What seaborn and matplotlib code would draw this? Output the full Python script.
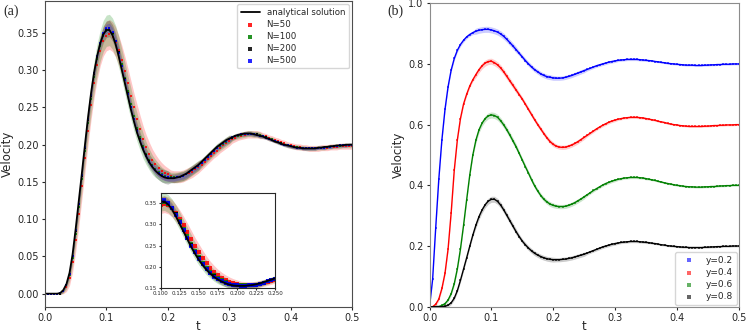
import numpy as np
import matplotlib
matplotlib.use("Agg")
import matplotlib.pyplot as plt
import seaborn as sns

# sampling times of the solutions
t = np.linspace(0, 0.5, 101)

# analytical velocity at y=0.8 (panel a reference, panel b black curve)
v_y08 = [0.000, 0.000, 0.000, 0.000, 0.000, 0.001, 0.005, 0.013, 0.028, 0.053,
         0.087, 0.124, 0.161, 0.199, 0.236, 0.269, 0.297, 0.319, 0.336, 0.348,
         0.354, 0.354, 0.347, 0.335, 0.319, 0.301, 0.283, 0.265, 0.247, 0.231,
         0.216, 0.204, 0.193, 0.184, 0.176, 0.170, 0.165, 0.161, 0.158, 0.156,
         0.155, 0.155, 0.155, 0.156, 0.157, 0.159, 0.161, 0.164, 0.167, 0.170,
         0.173, 0.177, 0.181, 0.185, 0.189, 0.193, 0.197, 0.200, 0.203, 0.206,
         0.208, 0.210, 0.212, 0.213, 0.214, 0.215, 0.215, 0.215, 0.214, 0.213,
         0.212, 0.211, 0.209, 0.208, 0.206, 0.204, 0.203, 0.201, 0.200, 0.199,
         0.198, 0.197, 0.196, 0.196, 0.195, 0.195, 0.195, 0.195, 0.195, 0.196,
         0.196, 0.197, 0.197, 0.198, 0.198, 0.199, 0.199, 0.199, 0.200, 0.200,
         0.200]

# panel (a): mean of the stochastic solutions for several N
v_n50 = [0.000, 0.000, 0.000, 0.000, 0.000, 0.000, 0.003, 0.009, 0.021, 0.042,
         0.072, 0.107, 0.145, 0.182, 0.219, 0.253, 0.283, 0.307, 0.326, 0.339,
         0.346, 0.348, 0.345, 0.338, 0.327, 0.314, 0.299, 0.283, 0.266, 0.250,
         0.235, 0.221, 0.208, 0.197, 0.188, 0.180, 0.174, 0.169, 0.165, 0.162,
         0.160, 0.158, 0.157, 0.157, 0.157, 0.158, 0.160, 0.162, 0.164, 0.167,
         0.170, 0.173, 0.177, 0.181, 0.185, 0.189, 0.192, 0.196, 0.199, 0.202,
         0.205, 0.207, 0.209, 0.211, 0.212, 0.213, 0.214, 0.214, 0.214, 0.214,
         0.213, 0.212, 0.211, 0.209, 0.208, 0.206, 0.205, 0.203, 0.202, 0.200,
         0.199, 0.198, 0.197, 0.197, 0.196, 0.196, 0.195, 0.195, 0.195, 0.195,
         0.196, 0.196, 0.196, 0.197, 0.197, 0.197, 0.198, 0.198, 0.198, 0.198,
         0.198]
v_n100 = [0.000, 0.000, 0.000, 0.000, 0.000, 0.000, 0.004, 0.011, 0.025, 0.048,
          0.080, 0.116, 0.154, 0.192, 0.229, 0.262, 0.291, 0.315, 0.333, 0.346,
          0.353, 0.354, 0.349, 0.339, 0.325, 0.308, 0.290, 0.272, 0.255, 0.238,
          0.223, 0.210, 0.198, 0.188, 0.180, 0.173, 0.168, 0.164, 0.160, 0.158,
          0.157, 0.156, 0.156, 0.156, 0.157, 0.158, 0.160, 0.163, 0.166, 0.169,
          0.172, 0.175, 0.179, 0.183, 0.187, 0.191, 0.195, 0.198, 0.201, 0.204,
          0.207, 0.209, 0.211, 0.212, 0.213, 0.214, 0.215, 0.215, 0.214, 0.214,
          0.213, 0.211, 0.210, 0.208, 0.207, 0.205, 0.203, 0.202, 0.200, 0.199,
          0.198, 0.197, 0.197, 0.196, 0.196, 0.195, 0.195, 0.195, 0.195, 0.196,
          0.196, 0.196, 0.197, 0.197, 0.198, 0.198, 0.198, 0.199, 0.199, 0.199,
          0.199]
v_n200 = [0.000, 0.000, 0.000, 0.000, 0.000, 0.000, 0.004, 0.012, 0.027, 0.051,
          0.084, 0.120, 0.158, 0.196, 0.233, 0.266, 0.295, 0.318, 0.335, 0.348,
          0.355, 0.356, 0.350, 0.339, 0.324, 0.306, 0.288, 0.269, 0.251, 0.235,
          0.220, 0.207, 0.196, 0.186, 0.178, 0.172, 0.166, 0.162, 0.159, 0.157,
          0.156, 0.155, 0.155, 0.156, 0.157, 0.158, 0.160, 0.163, 0.166, 0.169,
          0.172, 0.176, 0.180, 0.184, 0.188, 0.192, 0.196, 0.199, 0.202, 0.205,
          0.207, 0.209, 0.211, 0.213, 0.214, 0.214, 0.215, 0.215, 0.214, 0.214,
          0.212, 0.211, 0.210, 0.208, 0.206, 0.205, 0.203, 0.202, 0.200, 0.199,
          0.198, 0.197, 0.196, 0.196, 0.195, 0.195, 0.195, 0.195, 0.195, 0.196,
          0.196, 0.196, 0.197, 0.197, 0.198, 0.198, 0.199, 0.199, 0.199, 0.200,
          0.200]
v_n500 = [0.000, 0.000, 0.000, 0.000, 0.000, 0.001, 0.004, 0.012, 0.027, 0.051,
          0.085, 0.121, 0.159, 0.197, 0.234, 0.267, 0.296, 0.319, 0.337, 0.350,
          0.356, 0.357, 0.351, 0.339, 0.323, 0.305, 0.287, 0.268, 0.250, 0.234,
          0.219, 0.206, 0.195, 0.185, 0.177, 0.171, 0.166, 0.162, 0.159, 0.157,
          0.156, 0.155, 0.155, 0.156, 0.157, 0.158, 0.160, 0.163, 0.166, 0.169,
          0.172, 0.176, 0.180, 0.184, 0.188, 0.192, 0.196, 0.199, 0.202, 0.205,
          0.207, 0.210, 0.212, 0.213, 0.214, 0.215, 0.215, 0.215, 0.214, 0.213,
          0.212, 0.211, 0.209, 0.208, 0.206, 0.205, 0.203, 0.201, 0.200, 0.199,
          0.198, 0.197, 0.196, 0.196, 0.195, 0.195, 0.195, 0.195, 0.195, 0.196,
          0.196, 0.196, 0.197, 0.197, 0.198, 0.198, 0.199, 0.199, 0.199, 0.200,
          0.200]

# half-width of the shaded spread around each N
hw_n50 = ([0.0] * 5 + [0.001, 0.003, 0.006, 0.010, 0.013, 0.016, 0.018, 0.019, 0.020, 0.020]
          + [0.020] * 14
          + [0.019, 0.019, 0.018, 0.017, 0.016, 0.015, 0.014, 0.013, 0.012, 0.011, 0.010, 0.009]
          + [0.008] * 10 + [0.007] * 10 + [0.005] * 10 + [0.004] * 30)
hw_n100 = ([0.0] * 5 + [0.001, 0.003, 0.005, 0.008, 0.011, 0.014, 0.016, 0.018, 0.019, 0.020]
           + [0.021] * 14
           + [0.020, 0.019, 0.018, 0.017, 0.015, 0.014, 0.013, 0.012, 0.011, 0.010, 0.009, 0.008]
           + [0.007] * 10 + [0.006] * 10 + [0.004] * 10 + [0.003] * 30)
hw_n200 = ([0.0] * 5 + [0.001, 0.002, 0.003, 0.005, 0.007, 0.008, 0.009, 0.010, 0.010, 0.010]
           + [0.011] * 14 + [0.009] * 12
           + [0.006] * 10 + [0.005] * 10 + [0.003] * 10 + [0.002] * 30)
hw_n500 = ([0.0] * 5 + [0.000, 0.001, 0.001, 0.002, 0.003, 0.004, 0.004, 0.005, 0.005, 0.005]
           + [0.006] * 14 + [0.005] * 12
           + [0.004] * 10 + [0.003] * 10 + [0.002] * 10 + [0.002] * 30)

# panel (b): velocity at different heights y
v_y02 = [0.000, 0.090, 0.260, 0.420, 0.550, 0.650, 0.725, 0.780, 0.818, 0.845,
         0.864, 0.878, 0.889, 0.897, 0.903, 0.908, 0.911, 0.913, 0.914, 0.914,
         0.912, 0.909, 0.905, 0.899, 0.891, 0.881, 0.870, 0.859, 0.847, 0.835,
         0.823, 0.811, 0.800, 0.790, 0.781, 0.774, 0.767, 0.762, 0.758, 0.756,
         0.754, 0.753, 0.753, 0.754, 0.756, 0.759, 0.762, 0.766, 0.770, 0.774,
         0.778, 0.782, 0.786, 0.790, 0.794, 0.797, 0.800, 0.803, 0.806, 0.808,
         0.810, 0.812, 0.813, 0.814, 0.815, 0.815, 0.815, 0.815, 0.814, 0.813,
         0.812, 0.811, 0.810, 0.808, 0.807, 0.805, 0.804, 0.802, 0.801, 0.800,
         0.799, 0.798, 0.797, 0.796, 0.796, 0.796, 0.795, 0.795, 0.795, 0.796,
         0.796, 0.797, 0.797, 0.798, 0.798, 0.799, 0.799, 0.799, 0.800, 0.800,
         0.800]
v_y04 = [0.000, 0.000, 0.008, 0.025, 0.060, 0.110, 0.190, 0.310, 0.450, 0.550,
         0.620, 0.668, 0.700, 0.727, 0.748, 0.765, 0.781, 0.794, 0.803, 0.808,
         0.809, 0.804, 0.797, 0.787, 0.774, 0.759, 0.744, 0.729, 0.714, 0.699,
         0.684, 0.667, 0.650, 0.633, 0.616, 0.600, 0.585, 0.570, 0.556, 0.544,
         0.535, 0.529, 0.526, 0.525, 0.526, 0.529, 0.533, 0.538, 0.544, 0.551,
         0.558, 0.565, 0.572, 0.579, 0.586, 0.592, 0.598, 0.603, 0.608, 0.612,
         0.615, 0.618, 0.620, 0.622, 0.623, 0.624, 0.624, 0.624, 0.623, 0.622,
         0.620, 0.618, 0.616, 0.614, 0.611, 0.609, 0.607, 0.604, 0.602, 0.600,
         0.599, 0.597, 0.596, 0.595, 0.594, 0.594, 0.594, 0.594, 0.594, 0.595,
         0.595, 0.596, 0.597, 0.597, 0.598, 0.598, 0.599, 0.599, 0.599, 0.600,
         0.600]
v_y06 = [0.000, 0.000, 0.000, 0.000, 0.004, 0.010, 0.022, 0.043, 0.076, 0.125,
         0.190, 0.268, 0.352, 0.433, 0.500, 0.549, 0.583, 0.605, 0.620, 0.629,
         0.632, 0.630, 0.624, 0.613, 0.599, 0.583, 0.565, 0.546, 0.527, 0.505,
         0.483, 0.461, 0.440, 0.418, 0.398, 0.381, 0.366, 0.354, 0.345, 0.338,
         0.334, 0.331, 0.330, 0.330, 0.331, 0.334, 0.338, 0.343, 0.349, 0.355,
         0.362, 0.369, 0.376, 0.383, 0.389, 0.395, 0.401, 0.406, 0.410, 0.414,
         0.417, 0.420, 0.422, 0.424, 0.425, 0.426, 0.426, 0.426, 0.425, 0.424,
         0.422, 0.420, 0.418, 0.416, 0.413, 0.411, 0.408, 0.406, 0.404, 0.402,
         0.400, 0.399, 0.397, 0.396, 0.395, 0.395, 0.394, 0.394, 0.394, 0.395,
         0.395, 0.396, 0.396, 0.397, 0.398, 0.398, 0.399, 0.399, 0.400, 0.400,
         0.400]
hw_b = ([0.000, 0.004] + [0.006] * 13 + [0.010] * 14 + [0.008] * 12
        + [0.007] * 10 + [0.005] * 10 + [0.004] * 10 + [0.003] * 30)

n_labels = ["N=50", "N=100", "N=200", "N=500"]
y_labels = ["y=0.2", "y=0.4", "y=0.6", "y=0.8"]

sns.set_style("ticks")
plt.rcParams['font.family'] = ['DejaVu Sans']

fig = plt.figure(figsize=(7.47, 3.32), dpi=100)
ax1 = fig.add_axes([0.0602, 0.0762, 0.411, 0.921])
ax2 = fig.add_axes([0.575, 0.0762, 0.414, 0.914])
axin = fig.add_axes([0.2151, 0.1325, 0.1534, 0.287])

left_series = [(v_n50, hw_n50, "red"), (v_n100, hw_n100, "green"),
               (v_n200, hw_n200, "black"), (v_n500, hw_n500, "blue")]


def draw_left(ax, ms, with_labels):
    for vals, hw, c in left_series:
        vals = np.array(vals)
        hw = np.array(hw)
        ax.fill_between(t, vals - hw, vals + hw, color=c, alpha=0.22, lw=0)
    sns.lineplot(x=t, y=v_y08, ax=ax, color="black", lw=1.3,
                 label="analytical solution" if with_labels else None, legend=False)
    for (vals, hw, c), lab in zip(left_series, n_labels):
        sns.scatterplot(x=t, y=vals, ax=ax, color=c, marker="s", s=ms,
                        linewidth=0, alpha=0.85,
                        label=lab if with_labels else None, legend=False)


fmt = matplotlib.ticker.FormatStrFormatter

draw_left(ax1, 3, True)
ax1.set_xlim(0, 0.5)
ax1.set_ylim(-0.0175, 0.393)
ax1.set_xticks([0.0, 0.1, 0.2, 0.3, 0.4, 0.5])
ax1.set_yticks([0.0, 0.05, 0.1, 0.15, 0.2, 0.25, 0.3, 0.35])
ax1.yaxis.set_major_formatter(fmt("%.2f"))
ax1.xaxis.set_major_formatter(fmt("%.1f"))
ax1.tick_params(labelsize=7, length=2.5, pad=2)
ax1.set_xlabel("t", fontsize=8.5, labelpad=-2)
ax1.set_ylabel("Velocity", fontsize=8.5, labelpad=2)
ax1.legend(loc="upper right", fontsize=6.2, frameon=True, edgecolor="0.8",
           handlelength=2.2, borderaxespad=0.4, labelspacing=0.35, markerscale=1.5)

# inset zoom
draw_left(axin, 5, False)
axin.set_xlim(0.1, 0.25)
axin.set_ylim(0.15, 0.375)
axin.set_xticks([0.1, 0.125, 0.15, 0.175, 0.2, 0.225, 0.25])
axin.set_yticks([0.15, 0.2, 0.25, 0.3, 0.35])
axin.xaxis.set_major_formatter(fmt("%.3f"))
axin.yaxis.set_major_formatter(fmt("%.2f"))
axin.tick_params(labelsize=4, length=1.5, pad=1)
axin.set_xlabel("")
axin.set_ylabel("")

# panel (b)
right_series = [(v_y02, "blue"), (v_y04, "red"), (v_y06, "green"), (v_y08, "black")]
for vals, c in right_series:
    vals = np.array(vals)
    ax2.fill_between(t, vals - np.array(hw_b), vals + np.array(hw_b), color=c, alpha=0.2, lw=0)
for (vals, c), lab in zip(right_series, y_labels):
    sns.lineplot(x=t, y=vals, ax=ax2, color=c, lw=1.0, legend=False)
    sns.scatterplot(x=t, y=vals, ax=ax2, color=c, marker="s", s=3, linewidth=0,
                    alpha=0.6, label=lab, legend=False)
ax2.set_xlim(0, 0.5)
ax2.set_ylim(0, 1.0)
ax2.set_xticks([0.0, 0.1, 0.2, 0.3, 0.4, 0.5])
ax2.set_yticks([0.0, 0.2, 0.4, 0.6, 0.8, 1.0])
ax2.xaxis.set_major_formatter(fmt("%.1f"))
ax2.yaxis.set_major_formatter(fmt("%.1f"))
ax2.tick_params(labelsize=7, length=2.5, pad=2)
ax2.set_xlabel("t", fontsize=8.5, labelpad=-2)
ax2.set_ylabel("Velocity", fontsize=8.5, labelpad=2)
ax2.legend(loc="lower right", fontsize=6.5, frameon=True, edgecolor="0.8",
           handlelength=2.2, borderaxespad=0.2, labelspacing=0.35, markerscale=1.8)
for sp in ax2.spines.values():
    sp.set_color("0.55")
for sp in ax1.spines.values():
    sp.set_color("0.3")

fig.text(0.004, 0.955, "(a)", fontsize=10, family="Liberation Serif")
fig.text(0.518, 0.955, "(b)", fontsize=10, family="Liberation Serif")

fig.savefig("out.png", dpi=100)
